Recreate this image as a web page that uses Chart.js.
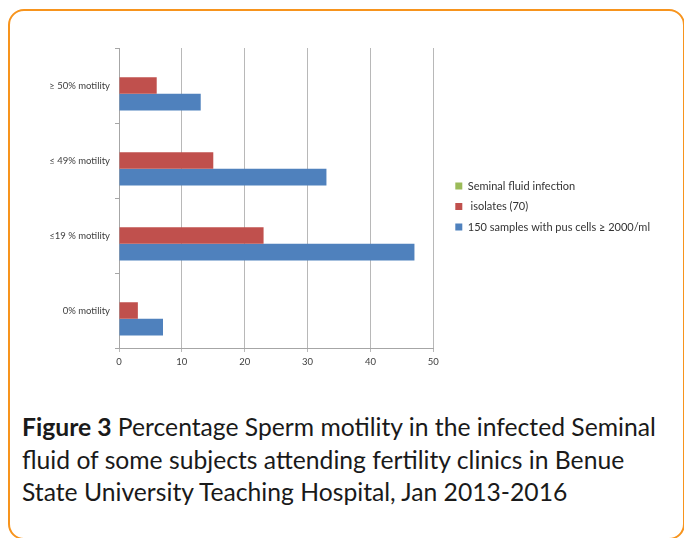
<!DOCTYPE html>
<html><head><meta charset="utf-8">
<script src="https://cdn.jsdelivr.net/npm/chart.js@4/dist/chart.umd.min.js"></script>
<style>
html,body{margin:0;padding:0;background:#fff;width:684px;height:538px;overflow:hidden;}
#frame{position:absolute;left:8px;top:9px;width:677px;height:531px;box-sizing:border-box;border:2px solid #F7941D;border-radius:16px;}
#wrap{position:absolute;left:0;top:0;width:684px;height:390px;}
#cap{position:absolute;left:22px;top:411px;font-family:Lato,"Open Sans",sans-serif;font-size:22px;line-height:32.5px;color:#1a1a1a;white-space:nowrap;}
#cap b{font-weight:700;}
</style></head>
<body>
<div id="frame"></div>
<div id="wrap"><canvas id="c" width="684" height="390"></canvas></div>
<div id="cap"><span id="l1"><b>Figure 3</b> Percentage Sperm motility in the infected Seminal</span><br>fluid of some subjects attending fertility clinics in Benue<br>State University Teaching Hospital, Jan 2013-2016</div>
<script>
const categories = ['≥ 50% motility', '≤ 49% motility', '≤19 % motility', '0% motility'];
const seriesNames = ['Seminal fluid infection', ' isolates (70)', '150 samples with pus cells ≥ 2000/ml'];
const seminalFluidInfection = [0, 0, 0, 0];
const isolates70 = [6, 15, 23, 3];
const samples150 = [13, 33, 47, 7];
const xTickValues = [0, 10, 20, 30, 40, 50];

// fit caption width
(function(){
  const l1 = document.getElementById('l1');
  const cap = document.getElementById('cap');
  const w = l1.getBoundingClientRect().width;
  cap.style.fontSize = (22 * 634 / w) + 'px';
})();

const FONT = 'Lato, "Open Sans", sans-serif';
const axisColor = '#a6a6a6';
const gridColor = '#b8b8b8';

const wideLegend = {
  id: 'wideLegend',
  beforeLayout(chart) {
    const lg = chart.legend;
    if (lg && !lg._wide) {
      const orig = lg.update.bind(lg);
      lg.update = (mw, mh, m) => orig(Math.max(mw, 300), mh, m);
      lg._wide = true;
    }
  }
};

new Chart(document.getElementById('c'), {
  type: 'bar',
  plugins: [wideLegend],
  data: {
    labels: categories,
    datasets: [
      { label: seriesNames[0], data: seminalFluidInfection, backgroundColor: '#9BBB59' },
      { label: seriesNames[1], data: isolates70, backgroundColor: '#C0504D' },
      { label: seriesNames[2], data: samples150, backgroundColor: '#4F81BD' }
    ]
  },
  options: {
    indexAxis: 'y',
    responsive: false,
    animation: false,
    devicePixelRatio: 1,
    datasets: { bar: { categoryPercentage: 0.667, barPercentage: 1.0, borderWidth: 0 } },
    layout: { padding: { left: 0, top: 23, right: 24, bottom: 0 } },
    plugins: {
      tooltip: { enabled: false },
      legend: {
        position: 'right',
        align: 'center',
        maxWidth: 300,
        labels: {
          boxWidth: 7, boxHeight: 7, padding: 9.5,
          color: '#333',
          font: { family: FONT, size: 11 }
        }
      }
    },
    scales: {
      x: {
        type: 'linear', min: 0, max: 50,
        afterBuildTicks: s => { s.ticks = xTickValues.map(v => ({ value: v })); },
        ticks: { color: '#404040', font: { family: FONT, size: 9.5 }, padding: 4 },
        grid: { color: gridColor, tickLength: 4, drawTicks: true },
        border: { color: axisColor },
        afterFit: s => { s.height = 42; }
      },
      y: {
        type: 'category',
        offset: true,
        ticks: { color: '#404040', font: { family: FONT, size: 9.5 }, padding: 5 },
        grid: { drawOnChartArea: false, offset: true, tickLength: 4, color: axisColor },
        border: { color: axisColor },
        afterFit: s => { s.width = 119; }
      },
      xTop: {
        type: 'linear', position: 'top', display: true,
        grid: { display: false }, border: { display: false }, ticks: { display: false },
        afterFit: s => { s.height = 25; }
      },
      yRight: {
        type: 'linear', position: 'right', display: true,
        grid: { display: false }, border: { display: false }, ticks: { display: false },
        afterFit: s => { s.width = 12.5; }
      }
    }
  }
});
</script>
</body></html>
